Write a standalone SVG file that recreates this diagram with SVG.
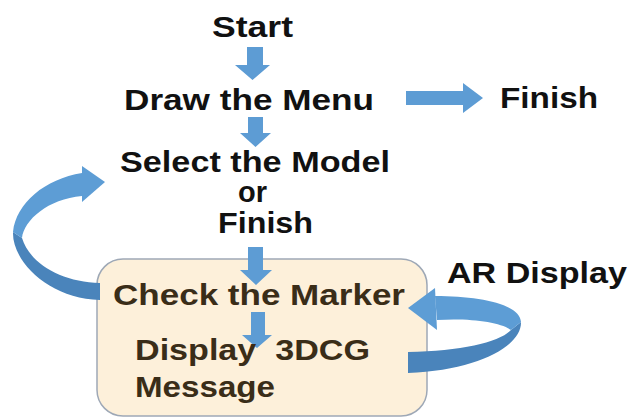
<svg xmlns="http://www.w3.org/2000/svg" width="632" height="419" viewBox="0 0 632 419">
  <style>
    .t { font-family: "Liberation Sans", Arial, sans-serif; font-weight: bold; font-size: 29px; fill: #111111; }
    .b { fill: #3a2d18; }
    .arr { fill: #5d9cd4; }
    .front { fill: #5d9dd5; }
    .back { fill: #4a84bb; }
    .box { fill: #fdf0da; stroke: #9ea8b6; stroke-width: 1.5; }
  </style>

  <!-- container around the marker check / display steps -->
  <g id="ar-box">
    <rect class="box" x="97" y="259" width="330" height="157" rx="26" ry="26"/>
  </g>

  <g id="connectors">
    <!-- Start -> Draw the Menu -->
    <path class="arr" d="M247,47 H263 V65 H270 L252.5,80 L235,65 H247 Z"/>
    <!-- Draw the Menu -> Select -->
    <path class="arr" d="M248,117 H263 V133 H271 L255.5,147 L240,133 H248 Z"/>
    <!-- Draw the Menu -> Finish -->
    <path class="arr" d="M406,91 H463 V83 L483,98 L463,113 V105 H406 Z"/>
    <!-- Select -> Check the Marker -->
    <path class="arr" d="M248,247 H263 V270 H272 L256,285 L240,270 H248 Z"/>
    <!-- Check the Marker -> Display -->
    <path class="arr" d="M251,312 H265 V335 H272 L257,348 L242,335 H251 Z"/>

    <!-- loop back: Check the Marker -> Select the Model -->
    <g id="loop-left">
      <path class="back" d="M13,232 C12,262 50,299 100,300 L100,283 C62,282 30,264 22,238 Z"/>
      <path class="front" d="M82,173 C45,179 16,203 13,232 L22,238 C24,220 48,199 82,196 Z"/>
      <path class="front" d="M82,166 L105,182 L82,202 Z"/>
    </g>

    <!-- loop: AR Display, Display 3DCG -> Check the Marker -->
    <g id="loop-right">
      <path class="back" d="M521,322 C522,345 480,370 408,373 L408,352 C462,351 500,342 511,330 Z"/>
      <path class="front" d="M435,296 C480,296 520,304 521,322 L511,330 C500,322 470,318 437,320 Z"/>
      <path class="front" d="M435,288 L408,308 L437,330 Z"/>
    </g>
  </g>

  <g id="start"><text class="t" x="212" y="37" textLength="81" lengthAdjust="spacingAndGlyphs">Start</text></g>
  <g id="draw-menu"><text class="t" x="124" y="110" textLength="250" lengthAdjust="spacingAndGlyphs">Draw the Menu</text></g>
  <g id="finish-top"><text class="t" x="500" y="108" textLength="98" lengthAdjust="spacingAndGlyphs">Finish</text></g>
  <g id="select-model">
    <text class="t" x="120" y="172" textLength="270" lengthAdjust="spacingAndGlyphs">Select the Model</text>
    <text class="t" x="238" y="202" textLength="29" lengthAdjust="spacingAndGlyphs">or</text>
    <text class="t" x="218" y="233" textLength="95" lengthAdjust="spacingAndGlyphs">Finish</text>
  </g>
  <g id="check-marker"><text class="t b" x="113" y="305" textLength="292" lengthAdjust="spacingAndGlyphs">Check the Marker</text></g>
  <g id="display-3dcg">
    <text class="t b" x="135" y="360" textLength="235" lengthAdjust="spacingAndGlyphs" xml:space="preserve">Display  3DCG</text>
    <text class="t b" x="135" y="397" textLength="140" lengthAdjust="spacingAndGlyphs">Message</text>
  </g>
  <g id="ar-display"><text class="t" x="447" y="283" textLength="180" lengthAdjust="spacingAndGlyphs">AR Display</text></g>
</svg>
